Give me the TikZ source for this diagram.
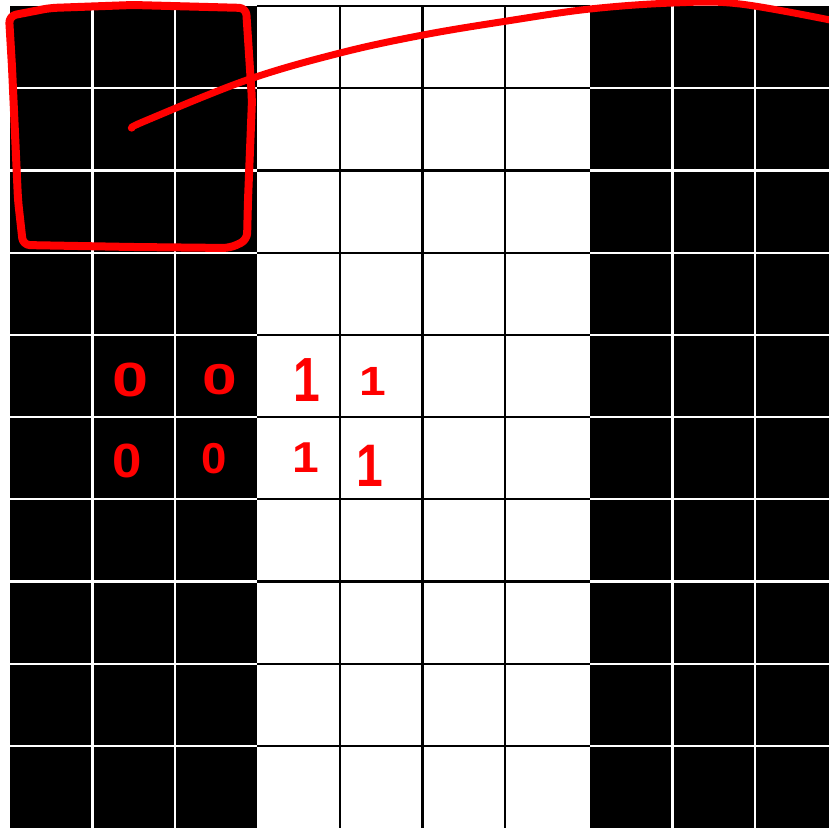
\documentclass[tikz,border=0pt]{standalone}
\usepackage{fontspec}
\setmainfont{Liberation Sans}
\begin{document}
\begin{tikzpicture}[x=1pt,y=-1pt,
  gridline/.style={black, line width=2.2pt},
  gapline/.style={white, line width=2.2pt},
  ink/.style={red, line width=8pt, line cap=round, line join=round},
  digit/.style={text=red, font=\fontsize{48}{48}\selectfont\bfseries, inner sep=0pt}]
\useasboundingbox (0,0) rectangle (829,827);
% black columns
\fill[black] (10,6) rectangle (257,840);
\fill[black] (590,6) rectangle (840,840);
\foreach \x in {92.5,175,672.5,755} \draw[gapline] (\x,6) -- (\x,840);
\foreach \y in {88.2,170.4,252.6,334.8,417,499.2,581.4,663.6,745.8} {
  \draw[gapline] (10,\y) -- (257,\y);
  \draw[gapline] (590,\y) -- (840,\y);
}
% white columns grid
\foreach \x in {340,422.5,505} \draw[gridline] (\x,6) -- (\x,840);
\foreach \y in {6,88.2,170.4,252.6,334.8,417,499.2,581.4,663.6,745.8}
  \draw[gridline] (257,\y) -- (590,\y);
% red hand-drawn box
\draw[ink, rounded corners=7pt] (9,16) -- (50,8) -- (133,5) -- (246,8)
  -- (252,100) -- (248,200) -- (247,240) -- (230,248) -- (133,247)
  -- (23,245) -- (18,200) -- (12,67) -- cycle;
% red curve from the centre
\coordinate (start) at (132,128);
\coordinate (finish) at (840,22);
\draw[ink, line width=7pt] plot[smooth, tension=0.6] coordinates {(start) (145,121) (247,80) (340,53) (423,35) (507,21) (590,9) (673,3) (740,4) (finish)};
% digits
\node[digit, xscale=1.35] (z1) at (131,380) {0};
\node[digit, xscale=1.3, yscale=0.9] (z2) at (220,380) {0};
\node[digit, yscale=1.3] (o1) at (307,380) {1};
\node[digit, yscale=0.85] (o2) at (373,381) {1};
\node[digit, xscale=1.1] (z3) at (127,461) {0};
\node[digit, xscale=0.95, yscale=0.9] (z4) at (214,459) {0};
\node[digit, yscale=0.9] (o3) at (306,458) {1};
\node[digit, yscale=1.25] (o4) at (370,466) {1};
\end{tikzpicture}
\end{document}
